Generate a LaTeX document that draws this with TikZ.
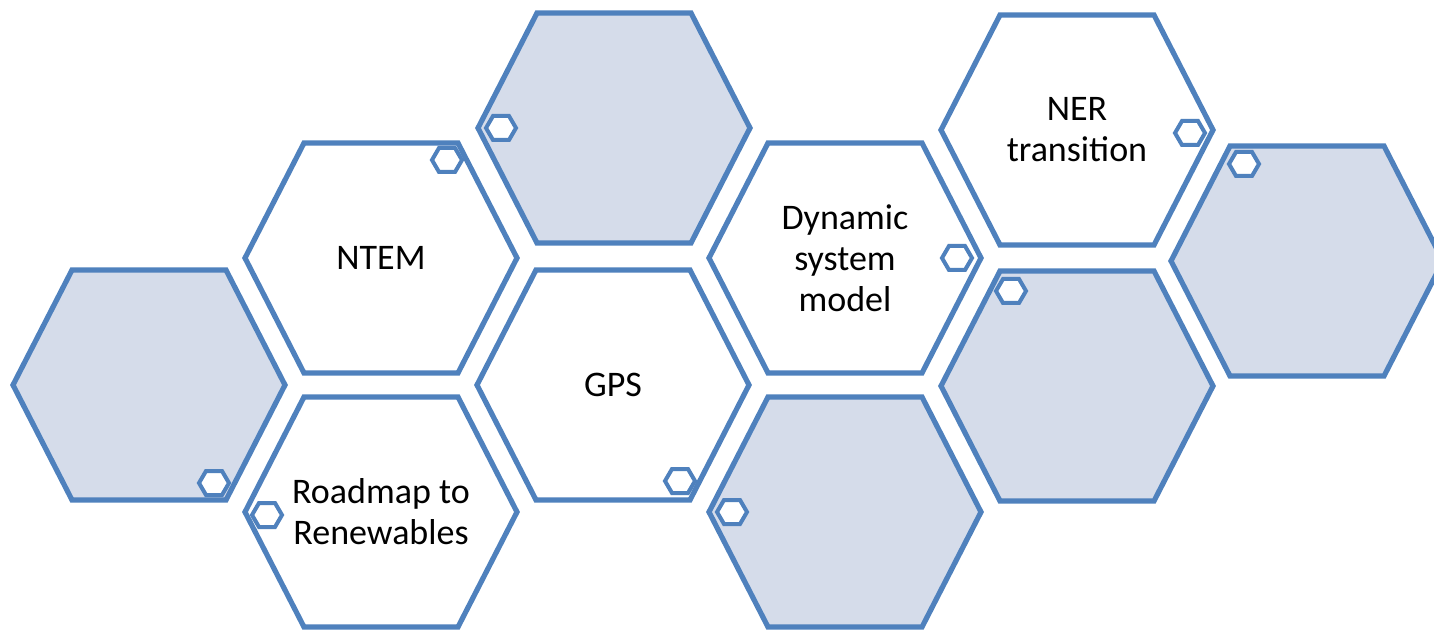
\documentclass[tikz,border=0pt]{standalone}
\usepackage{fontspec}
\setmainfont{Carlito}
\definecolor{hexblue}{HTML}{4F81BD}
\definecolor{hexfill}{HTML}{D5DCEA}

\begin{document}
\begin{tikzpicture}[x=0.5pt,y=-0.5pt,
  hexw/.style={draw=hexblue,line width=2.6pt,fill=white},
  hexs/.style={hexw,fill=hexfill},
  minihex/.style={draw=hexblue,line width=2pt,fill=white},
  lbl/.style={align=center,font=\fontsize{18}{20.5}\selectfont}]
 \useasboundingbox (0,0) rectangle (1434,630); %枠
 \foreach \n/\cx/\cy in {hl/149/385,ntem/381/258,ht/614/128,road/381/512,gps/613/385,
   hb/845/512,dyn/845/258,ner/1077/130,hm/1077/386,hr/1307/261}
   \coordinate (\n) at (\cx,\cy); %中心

 \foreach \n in {ntem,road,gps,dyn,ner}
   \draw[hexw] (\n) ++(-136,0) -- ++(59,-115) -- ++(154,0) -- ++(59,115)
     -- ++(-59,115) -- ++(-154,0) -- cycle; %白い六角形
 \foreach \n in {hl,ht,hb,hm,hr}
   \draw[hexs] (\n) ++(-136,0) -- ++(59,-115) -- ++(154,0) -- ++(59,115)
     -- ++(-59,115) -- ++(-154,0) -- cycle; %灰色の六角形

 \foreach \n/\dx/\dy in {ntem/66/-98,gps/67/96,dyn/112/0,ner/113/3,road/-114/3,
   ht/-113/0,hl/65/98,hb/-113/0,hm/-66/-95,hr/-63/-97}
   \draw[minihex] (\n) ++(\dx,\dy) ++(-15,0) -- ++(7,-12) -- ++(16,0) -- ++(7,12)
     -- ++(-7,12) -- ++(-16,0) -- cycle; %小さい六角形

 \node[lbl] (ntem-t) at (ntem) {NTEM};
 \node[lbl] (road-t) at (road) {Roadmap to\\Renewables};
 \node[lbl] (gps-t) at (gps) {GPS};
 \node[lbl] (dyn-t) at (dyn) {Dynamic\\system\\model};
 \node[lbl] (ner-t) at (ner) {NER\\transition};
\end{tikzpicture}
\end{document}
